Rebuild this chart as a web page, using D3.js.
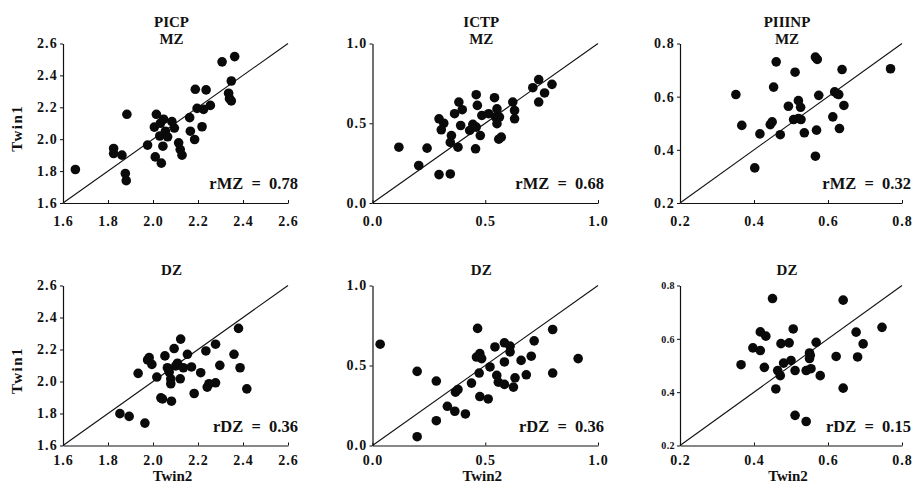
<!DOCTYPE html>
<html><head><meta charset="utf-8">
<script src="https://cdn.jsdelivr.net/npm/d3@7"></script>
<style>
body{margin:0;background:#fff;}
svg text{font-family:"Liberation Serif","Times New Roman",serif;font-weight:bold;fill:#111;}
</style></head>
<body><svg id="c" width="914" height="485"></svg>
<script>
// ---- data ----
const markers = ["PICP", "ICTP", "PIIINP"];
const zygosity = ["MZ", "DZ"];
const picpTicks = [1.6, 1.8, 2.0, 2.2, 2.4, 2.6];
const ictpTicks = [0.0, 0.5, 1.0];
const piiinpTicks = [0.2, 0.4, 0.6, 0.8];
const corrLabels = [["rMZ = 0.78", "rMZ = 0.68", "rMZ = 0.32"], ["rDZ = 0.36", "rDZ = 0.36", "rDZ = 0.15"]];

const picpMZ = [[1.655,1.81],[1.825,1.942],[1.825,1.91],[1.862,1.90],[1.877,1.785],[1.881,1.74],[1.884,2.156],[1.976,1.963],[2.015,2.156],[2.01,1.889],[2.006,2.076],[2.033,2.10],[2.037,1.85],[2.03,2.02],[2.047,2.125],[2.044,1.956],[2.055,2.05],[2.065,2.015],[2.084,2.11],[2.095,2.07],[2.114,1.977],[2.121,1.935],[2.129,1.90],[2.163,2.135],[2.166,2.05],[2.185,1.998],[2.188,2.313],[2.196,2.193],[2.218,2.078],[2.225,2.187],[2.236,2.309],[2.255,2.212],[2.307,2.485],[2.336,2.288],[2.34,2.254],[2.348,2.365],[2.363,2.518],[2.348,2.24]];
const ictpMZ = [[0.117,0.35],[0.205,0.235],[0.242,0.344],[0.295,0.178],[0.345,0.182],[0.295,0.528],[0.316,0.50],[0.305,0.459],[0.35,0.423],[0.345,0.38],[0.364,0.56],[0.383,0.633],[0.398,0.585],[0.391,0.486],[0.379,0.35],[0.457,0.34],[0.46,0.679],[0.465,0.612],[0.445,0.493],[0.431,0.455],[0.46,0.476],[0.478,0.423],[0.485,0.549],[0.515,0.56],[0.541,0.66],[0.546,0.539],[0.552,0.59],[0.552,0.497],[0.563,0.539],[0.56,0.40],[0.571,0.413],[0.622,0.633],[0.63,0.58],[0.63,0.528],[0.711,0.723],[0.737,0.774],[0.737,0.633],[0.763,0.69],[0.796,0.744]];
const piiinpMZ = [[0.351,0.608],[0.367,0.492],[0.402,0.332],[0.416,0.46],[0.444,0.495],[0.449,0.505],[0.453,0.636],[0.46,0.731],[0.471,0.457],[0.493,0.564],[0.511,0.692],[0.507,0.514],[0.52,0.585],[0.526,0.56],[0.52,0.518],[0.527,0.514],[0.536,0.464],[0.566,0.749],[0.571,0.74],[0.569,0.474],[0.566,0.376],[0.575,0.605],[0.613,0.524],[0.618,0.618],[0.625,0.611],[0.629,0.608],[0.631,0.48],[0.638,0.702],[0.643,0.567],[0.769,0.705]];
const picpDZ = [[1.853,1.799],[1.894,1.782],[1.964,1.74],[1.934,2.051],[1.976,2.135],[1.983,2.149],[1.995,2.107],[2.017,2.028],[2.035,1.898],[2.042,1.891],[2.053,2.16],[2.064,2.086],[2.072,2.059],[2.079,1.986],[2.082,1.877],[2.079,2.017],[2.094,2.206],[2.101,2.097],[2.109,2.114],[2.123,2.265],[2.121,2.017],[2.135,2.086],[2.153,2.17],[2.171,2.091],[2.183,1.925],[2.212,2.055],[2.235,2.191],[2.241,1.965],[2.249,1.986],[2.278,1.992],[2.278,2.233],[2.297,2.101],[2.36,2.17],[2.38,2.332],[2.387,2.086],[2.417,1.954]];
const ictpDZ = [[0.034,0.633],[0.198,0.463],[0.198,0.055],[0.283,0.403],[0.283,0.155],[0.332,0.245],[0.365,0.214],[0.368,0.333],[0.379,0.35],[0.412,0.197],[0.439,0.39],[0.466,0.732],[0.461,0.553],[0.476,0.574],[0.484,0.543],[0.473,0.453],[0.476,0.306],[0.513,0.291],[0.521,0.491],[0.543,0.616],[0.551,0.438],[0.558,0.396],[0.585,0.642],[0.585,0.522],[0.585,0.382],[0.61,0.621],[0.61,0.585],[0.625,0.365],[0.632,0.423],[0.659,0.532],[0.682,0.442],[0.704,0.558],[0.717,0.654],[0.799,0.725],[0.799,0.453],[0.912,0.543]];
const piiinpDZ = [[0.365,0.503],[0.397,0.566],[0.417,0.556],[0.417,0.626],[0.432,0.61],[0.428,0.493],[0.45,0.751],[0.459,0.412],[0.464,0.481],[0.471,0.462],[0.473,0.582],[0.48,0.509],[0.495,0.585],[0.5,0.519],[0.506,0.637],[0.511,0.481],[0.511,0.313],[0.541,0.29],[0.541,0.481],[0.55,0.526],[0.55,0.547],[0.552,0.538],[0.554,0.488],[0.568,0.587],[0.579,0.462],[0.622,0.534],[0.641,0.745],[0.641,0.415],[0.676,0.625],[0.68,0.532],[0.695,0.581],[0.746,0.643]];

// ---- layout ----
const svg = d3.select("#c");
const colX = [[63, 288], [372.5, 598], [680, 902]];
const rowY = [[43.5, 203], [285.5, 445.5]];
const tickSets = [picpTicks, ictpTicks, piiinpTicks];
const dataSets = [[picpMZ, ictpMZ, piiinpMZ], [picpDZ, ictpDZ, piiinpDZ]];
const labelRight = [298, 604, 911];

for (let r = 0; r < 2; r++) {
  for (let c = 0; c < 3; c++) {
    const ticks = tickSets[c];
    const dom = [ticks[0], ticks[ticks.length - 1]];
    const x = d3.scaleLinear().domain(dom).range(colX[c]);
    const y = d3.scaleLinear().domain(dom).range([rowY[r][1], rowY[r][0]]);
    const g = svg.append("g");
    const fmt = d3.format(".1f");
    const smallY = (r === 1 && c === 2);

    // x axis (ticks pointing inward)
    const xa = g.append("g").attr("transform", `translate(0,${rowY[r][1]})`)
      .call(d3.axisBottom(x).tickValues(ticks).tickFormat(fmt).tickSizeInner(-3).tickSizeOuter(0).tickPadding(r === 0 ? 13 : 10));
    xa.select(".domain").attr("stroke", "#111").attr("stroke-width", 1.2);
    xa.selectAll(".tick line").attr("stroke", "#111");
    xa.selectAll("text").attr("font-size", 14).attr("letter-spacing", 1).attr("font-family", null).attr("fill", "#111");

    // y axis (ticks outward)
    const ya = g.append("g").attr("transform", `translate(${colX[c][0]},0)`)
      .call(d3.axisLeft(y).tickValues(ticks).tickFormat(fmt).tickSizeInner(3).tickSizeOuter(0).tickPadding(2));
    ya.select(".domain").attr("stroke", "#111").attr("stroke-width", 1.2);
    ya.selectAll(".tick line").attr("stroke", "#111");
    ya.selectAll("text").attr("font-size", smallY ? 10 : 14).attr("letter-spacing", smallY ? 0.4 : 1.2).attr("font-family", null).attr("fill", "#111");

    // identity line
    g.append("line").attr("x1", x(dom[0])).attr("y1", y(dom[0])).attr("x2", x(dom[1])).attr("y2", y(dom[1]))
      .attr("stroke", "#111").attr("stroke-width", 1.1);

    // points
    g.selectAll("circle").data(dataSets[r][c]).join("circle")
      .attr("cx", d => x(d[0])).attr("cy", d => y(d[1])).attr("r", 4.8).attr("fill", "#0a0a0a");

    // titles
    const tcx = (colX[c][0] + colX[c][1]) / 2 - 4;
    if (r === 0) {
      g.append("text").attr("x", tcx).attr("y", 27).attr("text-anchor", "middle").attr("font-size", 15).text(markers[c]);
      g.append("text").attr("x", tcx).attr("y", 44).attr("text-anchor", "middle").attr("font-size", 15).text(zygosity[0]);
    } else {
      g.append("text").attr("x", tcx).attr("y", 275).attr("text-anchor", "middle").attr("font-size", 15).text(zygosity[1]);
    }

    // correlation label
    g.append("text").attr("x", labelRight[c]).attr("y", rowY[r][1] - 14).attr("text-anchor", "end")
      .attr("font-size", 16.5).attr("xml:space", "preserve").style("white-space", "pre")
      .text(corrLabels[r][c].replace(" = ", "  =  "));

    // axis titles
    if (c === 0) {
      const cy = (rowY[r][0] + rowY[r][1]) / 2 + 5;
      g.append("text").attr("transform", `translate(22,${cy}) rotate(-90)`).attr("text-anchor", "middle")
        .attr("font-size", 15).attr("letter-spacing", 1.5).text("Twin1");
    }
    if (r === 1) {
      g.append("text").attr("x", (colX[c][0] + colX[c][1]) / 2 - 3).attr("y", 481).attr("text-anchor", "middle")
        .attr("font-size", 15).text("Twin2");
    }
  }
}
</script></body></html>
